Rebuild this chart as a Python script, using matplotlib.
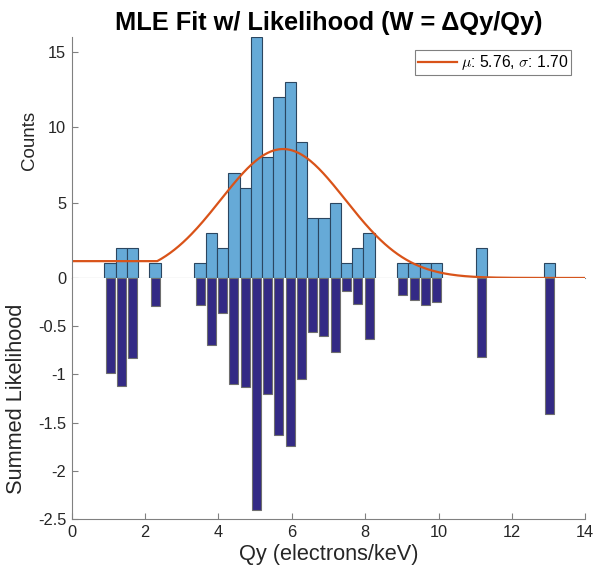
import numpy as np
import matplotlib
matplotlib.use("Agg")
import matplotlib.pyplot as plt

plt.rcParams['font.family'] = ['Liberation Sans', 'DejaVu Sans']
plt.rcParams['mathtext.fontset'] = 'cm'

# histogram bins (40 bins, lower edge and width)
bin_lo = 0.89
bin_w = 0.307

# counts per bin
counts = [1, 2, 2, 0, 1, 0, 0, 0, 1, 3,
          2, 7, 6, 16, 8, 12, 13, 9, 4, 4,
          5, 1, 2, 3, 0, 0, 1, 1, 1, 1,
          0, 0, 0, 2, 0, 0, 0, 0, 0, 1]

# summed likelihood per bin
likelihood = [-0.985, -1.124, -0.833, 0, -0.287, 0, 0, 0, -0.28, -0.695,
              -0.367, -1.10, -1.127, -2.403, -1.20, -1.632, -1.746, -1.048, -0.56, -0.60,
              -0.768, -0.135, -0.266, -0.633, 0, 0, -0.176, -0.225, -0.28, -0.246,
              0, 0, 0, -0.82, 0, 0, 0, 0, 0, -1.41]

# fit parameters
mu = 5.76
sigma = 1.70
amp = 8.56
x_flat = 2.33

counts = np.array(counts)
likelihood = np.array(likelihood)
centers = bin_lo + bin_w*(np.arange(len(counts))+0.5)

#fit curve
x_fit = np.concatenate([[0], np.linspace(x_flat, 14, 300)])
y_fit = amp*np.exp(-(np.maximum(x_fit, x_flat)-mu)**2/(2*sigma**2))

gray = '#808080'
txt = '#262626'

fig = plt.figure(figsize=(5.93, 5.76), dpi=100)
ax1 = fig.add_axes([0.121, 0.5174, 0.866, 0.4184])
ax2 = fig.add_axes([0.121, 0.0990, 0.866, 0.4184])

# upper panel: counts
m = counts > 0
ax1.bar(centers[m], counts[m], width=bin_w, color='#66aad7', edgecolor='#2b4660', linewidth=0.8)
ax1.plot(x_fit, y_fit, color='#d95319', linewidth=1.6, label=r'$\mu$: 5.76, $\sigma$: 1.70')
ax1.set_xlim(0, 14)
ax1.set_ylim(0, 16)
ax1.set_yticks([0, 5, 10, 15])
ax1.set_xticks([])
ax1.spines['top'].set_visible(False)
ax1.spines['right'].set_visible(False)
ax1.spines['left'].set_color(gray)
ax1.spines['bottom'].set_color(gray)
ax1.tick_params(axis='y', direction='in', length=4, color=gray, labelsize=11.8, labelcolor=txt, pad=4)
ax1.set_ylabel('Counts', fontsize=13.5, color=txt)
ax1.yaxis.set_label_coords(-0.066, 0.57)
ax1.set_title('MLE Fit w/ Likelihood (W = ΔQy/Qy)', fontsize=18.3, fontweight='bold', pad=5)
leg = ax1.legend(loc='upper right', bbox_to_anchor=(0.973, 0.946), borderaxespad=0,
                 fontsize=11.3, handlelength=2.5, handletextpad=0.25, borderpad=0.2,
                 fancybox=False, framealpha=1)
leg.get_frame().set_edgecolor(gray)
leg.get_frame().set_linewidth(0.8)

# lower panel: summed likelihood
m = likelihood < 0
ax2.bar(centers[m], likelihood[m], width=0.8*bin_w, color='#332a85', edgecolor='#6e6e6e', linewidth=0.8)
ax2.set_xlim(0, 14)
ax2.set_ylim(-2.5, 0)
ax2.set_yticks([-2.5, -2, -1.5, -1, -0.5])
ax2.set_yticklabels(['-2.5', '-2', '-1.5', '-1', '-0.5'])
ax2.set_xticks(np.arange(0, 15, 2))
ax2.spines['top'].set_visible(False)
ax2.spines['right'].set_visible(False)
ax2.spines['left'].set_color(gray)
ax2.spines['bottom'].set_color(gray)
ax2.tick_params(direction='in', length=4, color=gray, labelsize=11.8, labelcolor=txt, pad=4)
ax2.set_ylabel('Summed Likelihood', fontsize=15.7, color=txt)
ax2.yaxis.set_label_coords(-0.087, 0.5)
ax2.set_xlabel('Qy (electrons/keV)', fontsize=15.7, color=txt, labelpad=3.5)

plt.savefig("out.png", dpi=100)
